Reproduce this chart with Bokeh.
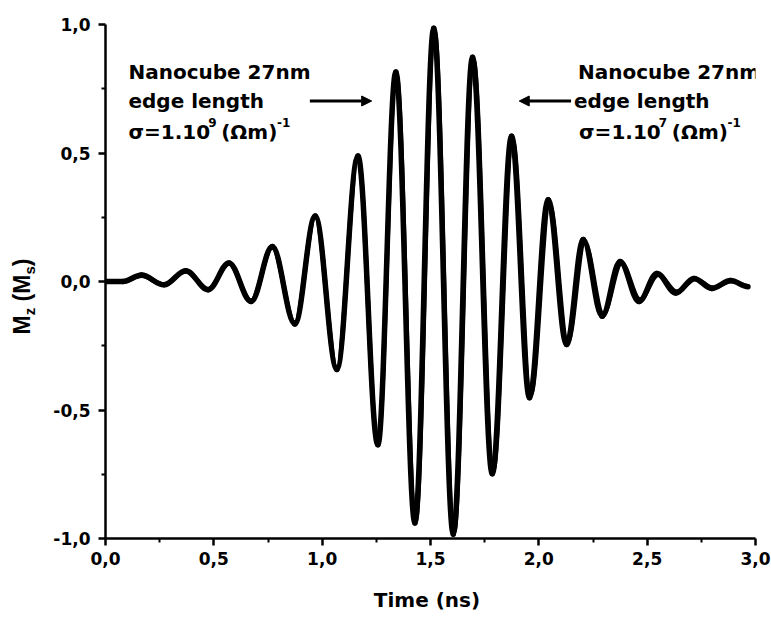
import math
from bokeh.plotting import figure
from bokeh.layouts import row
from bokeh.models import Range1d, FixedTicker, Label, Arrow, NormalHead, ColumnDataSource
from bokeh.core.properties import value
from bokeh.embed import file_html
from bokeh.resources import INLINE

# ---- data (extrema of the two traces) ----
time_a = [0.0, 0.08, 0.166, 0.270, 0.370, 0.474, 0.570, 0.672, 0.770, 0.874, 0.968,
          1.068, 1.165, 1.257, 1.340, 1.428, 1.515, 1.605, 1.694, 1.785, 1.874, 1.957,
          2.043, 2.128, 2.205, 2.292, 2.375, 2.462, 2.545, 2.632, 2.716, 2.798, 2.885, 2.965]
mz_a = [0.0, 0.0, 0.025, -0.013, 0.042, -0.032, 0.072, -0.078, 0.136, -0.165, 0.255,
        -0.342, 0.488, -0.635, 0.815, -0.94, 0.985, -0.983, 0.873, -0.748, 0.565, -0.452,
        0.318, -0.245, 0.163, -0.135, 0.078, -0.078, 0.031, -0.045, 0.012, -0.027, 0.004, -0.02]

time_b = [0.0, 0.08, 0.166, 0.270, 0.370, 0.474, 0.570, 0.672, 0.770, 0.874, 0.968,
          1.068, 1.165, 1.257, 1.342, 1.431, 1.518, 1.608, 1.698, 1.789, 1.879, 1.962,
          2.049, 2.133, 2.211, 2.297, 2.381, 2.467, 2.551, 2.637, 2.722, 2.803, 2.890, 2.965]
mz_b = [0.0, 0.0, 0.022, -0.012, 0.040, -0.030, 0.070, -0.075, 0.132, -0.160, 0.250,
        -0.335, 0.480, -0.625, 0.805, -0.93, 0.975, -0.975, 0.86, -0.735, 0.55, -0.44,
        0.30, -0.235, 0.15, -0.125, 0.07, -0.07, 0.026, -0.04, 0.01, -0.024, 0.002, -0.018]

x_ticks = [0.0, 0.5, 1.0, 1.5, 2.0, 2.5, 3.0]
x_tick_labels = ["0,0", "0,5", "1,0", "1,5", "2,0", "2,5", "3,0"]
y_ticks = [-1.0, -0.5, 0.0, 0.5, 1.0]
y_tick_labels = ["-1,0", "-0,5", "0,0", "0,5", "1,0"]

FONT = "DejaVu Sans"
YFONT = "Liberation Sans"
YLAB_W = 50

p = figure(width=771 - YLAB_W, height=620, x_range=Range1d(0, 3), y_range=Range1d(-1, 1),
           output_backend="svg", toolbar_location=None,
           min_border_left=103 - YLAB_W, min_border_right=16, min_border_top=24, min_border_bottom=82)
p.outline_line_color = None
p.xgrid.visible = False
p.ygrid.visible = False
p.background_fill_color = "white"
p.border_fill_color = "white"


def curve_source(t, v):
    K = 0.3634
    x0 = t[:-1]; x1 = t[1:]; y0 = v[:-1]; y1 = v[1:]
    cx0 = [a + K * (b - a) for a, b in zip(x0, x1)]
    cx1 = [b - K * (b - a) for a, b in zip(x0, x1)]
    return ColumnDataSource(dict(x0=x0, y0=y0, x1=x1, y1=y1, cx0=cx0, cy0=y0, cx1=cx1, cy1=y1))


for t, v, w in ((time_a, mz_a, 5.5), (time_b, mz_b, 4.5)):
    p.bezier(x0="x0", y0="y0", x1="x1", y1="y1", cx0="cx0", cy0="cy0", cx1="cx1", cy1="cy1",
             source=curve_source(t, v), line_color="black", line_width=w, line_cap="round")

# axes
for ax, ticks, labels in ((p.xaxis[0], x_ticks, x_tick_labels), (p.yaxis[0], y_ticks, y_tick_labels)):
    ax.ticker = FixedTicker(ticks=ticks, minor_ticks=[a + 0.25 for a in ticks[:-1]])
    ax.major_label_overrides = {k: s for k, s in zip(ticks, labels)}
    ax.axis_line_width = 2.5
    ax.axis_line_color = "black"
    ax.major_tick_line_width = 2.5
    ax.minor_tick_line_width = 2
    ax.major_tick_in = 0
    ax.major_tick_out = 7
    ax.minor_tick_in = 0
    ax.minor_tick_out = 4
    ax.major_label_text_font = FONT
    ax.major_label_text_font_style = "bold"
    ax.major_label_text_font_size = "17px"
    ax.major_label_text_color = "black"

p.xaxis.major_label_standoff = 6
p.yaxis.major_label_standoff = 8
p.xaxis.axis_label = "Time  (ns)"
p.xaxis.axis_label_text_font = FONT
p.xaxis.axis_label_text_font_style = "bold"
p.xaxis.axis_label_text_font_size = "20px"
p.xaxis.axis_label_text_color = "black"
p.xaxis.axis_label_standoff = 20


def px_to_x(px):
    return (px - 103) / (652 / 3)


def py_to_y(py):
    return (281 - py) / 257


def add_text(txt, px, py, size):
    p.add_layout(Label(x=px_to_x(px), y=py_to_y(py), text=txt, text_font=FONT,
                       text_font_style="bold", text_font_size=size, text_color="black",
                       text_align="left", text_baseline="alphabetic"))


# annotations
for x0 in (126, 577):
    add_text("Nanocube 27nm", x0, 71, "20px")
    add_text("edge length", x0 - (4 if x0 > 300 else 0), 100, "20px")
for x0, exp in ((126, "9"), (578, "7")):
    add_text("σ=1.10", x0, 131, "20px")
    add_text(exp, x0 + 80, 122, "12px")
    add_text("(Ωm)", x0 + 93, 131, "20px")
    add_text("-1", x0 + 149, 122, "12px")

for xs, xe in ((308, 370), (570, 518)):
    p.add_layout(Arrow(end=NormalHead(size=10, fill_color="black", line_color="black"),
                       x_start=px_to_x(xs), y_start=py_to_y(100.5), x_end=px_to_x(xe), y_end=py_to_y(100.5),
                       line_width=3, line_color="black"))

# y-axis title "M_z (M_s)" composed of pieces, in its own narrow panel (frame aligned with main plot)
ylab = figure(width=YLAB_W, height=620, x_range=Range1d(0, YLAB_W), y_range=Range1d(-1, 1),
              output_backend="svg", toolbar_location=None, x_axis_type=None, y_axis_type=None,
              min_border_left=0, min_border_right=0, min_border_top=24, min_border_bottom=82)
ylab.outline_line_color = None
ylab.xgrid.visible = False
ylab.ygrid.visible = False
ylab.background_fill_color = "white"
ylab.border_fill_color = "white"

main_src = ColumnDataSource(dict(x=[21, 21, 21], y=[py_to_y(334), py_to_y(300.9), py_to_y(265.7)],
                                 text=["M", "(M", ")"]))
sub_src = ColumnDataSource(dict(x=[29, 29], y=[py_to_y(314.8), py_to_y(274)], text=["z", "s"]))
ylab.text(x="x", y="y", text="text", source=main_src, angle=math.pi / 2, text_font=value(YFONT),
          text_font_style="bold", text_font_size="23px", text_align="left", text_baseline="alphabetic",
          text_color="black")
ylab.text(x="x", y="y", text="text", source=sub_src, angle=math.pi / 2, text_font=value(YFONT),
          text_font_style="bold", text_font_size="15px", text_align="left", text_baseline="alphabetic",
          text_color="black")

open("out.html", "w").write(file_html(row(ylab, p), INLINE))
